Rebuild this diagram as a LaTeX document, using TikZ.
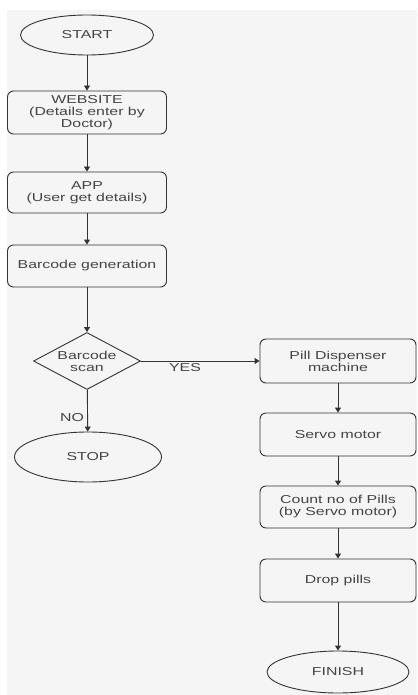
\documentclass[tikz,border=0pt]{standalone}
\usepackage{fontspec}
\setmainfont{Liberation Sans}[FakeStretch=1.38]
\usepackage{tikz}
\usetikzlibrary{arrows.meta,shapes.geometric}
\definecolor{bgfill}{HTML}{F5F5F5}
\definecolor{ink}{HTML}{333333}
\definecolor{txt}{HTML}{444444}
\tikzset{
  box/.style={draw=ink,rounded corners=6pt,minimum width=156pt,align=center,inner sep=1pt},
  term/.style={draw=ink,ellipse,align=center,inner sep=0pt},
  decide/.style={draw=ink,diamond,aspect=1.88,inner sep=0pt,align=center,minimum width=107pt,minimum height=57pt},
  lbl/.style={text=txt}
}

\begin{document}
\begin{tikzpicture}[line cap=round,line join=round,>={Triangle[length=5pt,width=6pt]},x=1pt,y=-1pt,line width=0.9pt,font=\fontsize{11.5}{12}\selectfont,text=txt]

\useasboundingbox (0,0) rectangle (417,695);
\fill[bgfill] (7,10) rectangle (417,695);

% left column
\node[term,minimum width=133pt,minimum height=40pt] (start) at (87,35) {START};
\node[box,minimum width=159pt,minimum height=43pt] (web) at (87,112.5) {WEBSITE\\(Details enter by\\Doctor)};
\node[box,minimum width=159pt,minimum height=41pt] (app) at (87,192.5) {APP\\(User get details)};
\node[box,minimum width=159pt,minimum height=42pt] (gen) at (87,266) {Barcode generation};
\node[decide] (scan) at (87,361) {Barcode\\scan};
\node[term,minimum width=147pt,minimum height=50pt] (stop) at (88,457) {STOP};

% right column
\node[box,minimum height=44pt] (pill) at (338,361) {Pill Dispenser\\machine};
\node[box,minimum height=43pt] (servo) at (338,434.5) {Servo motor};
\node[box,minimum height=42pt] (count) at (338,507) {Count no of Pills\\(by Servo motor)};
\node[box,minimum height=43pt] (drop) at (338,580.5) {Drop pills};
\node[term,minimum width=142pt,minimum height=42pt] (finish) at (338,672) {FINISH};

\begin{scope}[draw=ink]
\draw[->] (start) -- (web);
\draw[->] (web) -- (app);
\draw[->] (app) -- (gen);
\draw[->] (gen) -- (scan);
\draw[->] (scan) -- (stop);
\draw[->] (scan.east) -- (pill.west);
\draw[->] (pill) -- (servo);
\draw[->] (servo) -- (count);
\draw[->] (count) -- (drop);
\draw[->] (drop) -- (finish);
\end{scope}

\node[lbl] (yes) at (185,368) {YES};
\node[lbl] (no) at (72,418) {NO};
\end{tikzpicture}
\end{document}
